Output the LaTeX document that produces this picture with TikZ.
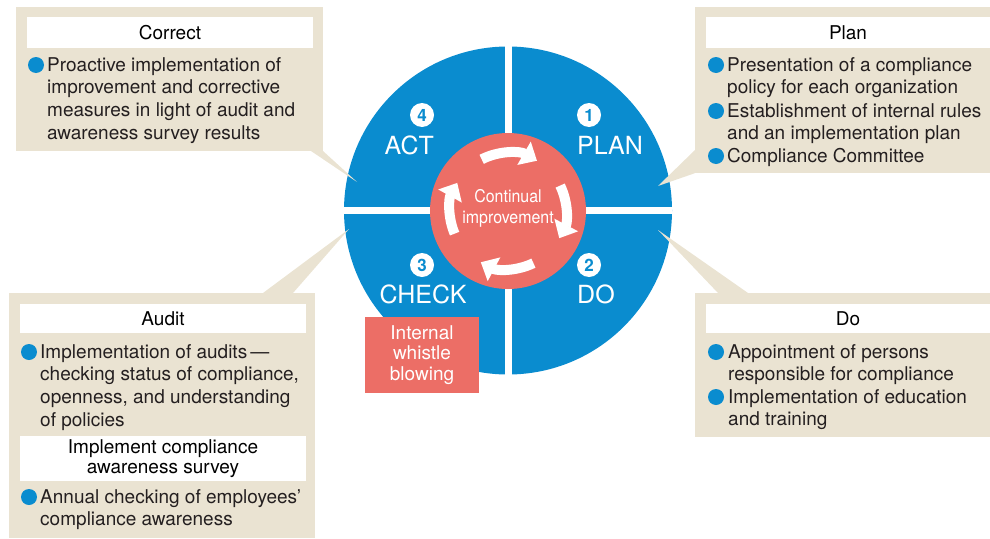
\documentclass[tikz,border=0pt]{standalone}
\usepackage{fontspec}
\setmainfont{TeX Gyre Heros}
\newfontfamily\narrowfont[FakeStretch=0.91]{TeX Gyre Heros}
\usetikzlibrary{arrows.meta}
\newlength{\du}
\setlength{\du}{1\unitlength}

\begin{document}
\begin{tikzpicture}[
  panel/.style={fill=panelcolor, inner sep=0pt},
  titlebar/.style={fill=white, inner sep=0pt, align=center, text=black, font=\fontsize{19}{20}\selectfont},
  bullettext/.style={anchor=base west, inner sep=0pt, align=left, text=textcolor, font=\fontsize{19}{22.7}\selectfont},
  dot/.style={circle, fill=pdcablue, inner sep=0pt, minimum size=16\du},
  gap/.style={draw=white, line width=7\du},
  cyclearrow/.style={draw=white, line width=10\du, -{Triangle[width=26pt, length=15pt]}},
  stepnum/.style={circle, fill=white, inner sep=0pt, minimum size=24\du, text=pdcablue, font=\bfseries\fontsize{17}{17}\selectfont},
  phase/.style={inner sep=0pt, text=white, font=\fontsize{25}{25}\selectfont},
  whistle/.style={fill=pdcared, inner sep=0pt, minimum width=114\du, minimum height=76\du, align=center, text=white, font=\fontsize{19}{20.5}\selectfont}
]
\pgftransformxscale{1.000000}
\pgftransformyscale{-1.000000}
\definecolor{pdcablue}{rgb}{0.040000, 0.550000, 0.810000}
\definecolor{pdcared}{rgb}{0.925000, 0.430000, 0.400000}
\definecolor{panelcolor}{rgb}{0.918000, 0.890000, 0.824000}
\definecolor{textcolor}{rgb}{0.140000, 0.120000, 0.125000}
\useasboundingbox (0\du,0\du) rectangle (990\du,538\du);
% wheel
\node[circle, fill=pdcablue, inner sep=0pt, minimum size=328\du] (wheel) at (508\du,210.5\du) {};
\draw[gap] (wheel.north) -- (wheel.south);
\draw[gap] (wheel.west) -- (wheel.east);
\node[circle, fill=pdcared, inner sep=0pt, minimum size=156\du] (hub) at (508\du,211\du) {};
\node[align=center, inner sep=0pt, text=white, font=\narrowfont\fontsize{17.5}{21}\selectfont] (hublabel) at (508\du,208\du) {Continual\\improvement};
\draw[cyclearrow] (hub.center) ++(-117:58pt) arc[start angle=-117, end angle=-60, radius=58pt];
\draw[cyclearrow] (hub.center) ++(-26:58pt) arc[start angle=-26, end angle=28, radius=58pt];
\draw[cyclearrow] (hub.center) ++(64:58pt) arc[start angle=64, end angle=118, radius=58pt];
\draw[cyclearrow] (hub.center) ++(-203:58pt) arc[start angle=-203, end angle=-151, radius=58pt];
% phases
\node[stepnum] (n1) at (589\du,115\du) {1};
\node[stepnum] (n2) at (589\du,265\du) {2};
\node[stepnum] (n3) at (422\du,265\du) {3};
\node[stepnum] (n4) at (422\du,115\du) {4};
\node[phase, anchor=base west] (plan) at (577\du,154\du) {PLAN};
\node[phase, anchor=base west] (do) at (577\du,303\du) {DO};
\node[phase, anchor=base] (check) at (423\du,303\du) {CHECK};
\node[phase, anchor=base east] (act) at (434\du,154\du) {ACT};
\node[whistle] (whistle) at (422\du,355\du) {Internal\\whistle\\blowing};
% callout tips
\coordinate (correctbase) at (311\du,151\du);
\coordinate (correcttip) at (357\du,182\du);
\coordinate (planbase) at (695\du,150\du);
\coordinate (plantip) at (658\du,186\du);
\coordinate (dobase) at (718\du,293\du);
\coordinate (dobase2) at (748\du,293\du);
\coordinate (dotip) at (658\du,230\du);
\coordinate (auditbase) at (263\du,293\du);
\coordinate (auditbase2) at (293\du,293\du);
\coordinate (audittip) at (349\du,229\du);
% Correct
\node[panel, minimum width=307\du, minimum height=144\du] (correctbox) at (169.5\du,79\du) {};
\fill[panelcolor] (correctbase) -- (correctbox.south east) -- (correcttip) -- cycle;
\node[titlebar, minimum width=286\du, minimum height=31\du] (correcttitle) at (170\du,32.5\du) {Correct};
\node[dot] (correctdot) at (36\du,65\du) {};
% base anchor = last line
\node[bullettext] (correcttext) at (47\du,139.1\du) {Proactive implementation of\\improvement and corrective\\measures in light of audit and\\awareness survey results};
% Plan
\node[panel, minimum width=295\du, minimum height=166\du] (planbox) at (842.5\du,90\du) {};
\fill[panelcolor] (planbase) -- (planbox.south west) -- (plantip) -- cycle;
\node[titlebar, minimum width=284\du, minimum height=31\du] (plantitle) at (848\du,32.5\du) {Plan};
\node[dot] (plandot1) at (716\du,65\du) {};
\node[dot] (plandot2) at (716\du,111\du) {};
\node[dot] (plandot3) at (716\du,156\du) {};
\node[bullettext] (plantext1) at (727\du,93.7\du) {Presentation of a compliance\\policy for each organization};
\node[bullettext] (plantext2) at (727\du,139.7\du) {Establishment of internal rules\\and an implementation plan};
\node[bullettext] (plantext3) at (727\du,162\du) {Compliance Committee};
% Do
\node[panel, minimum width=295\du, minimum height=144\du] (dobox) at (842.5\du,365\du) {};
\fill[panelcolor] (dobase) -- (dobase2) -- (dotip) -- cycle;
\node[titlebar, minimum width=284\du, minimum height=29\du] (dotitle) at (848\du,318.5\du) {Do};
\node[dot] (dodot1) at (716\du,352\du) {};
\node[dot] (dodot2) at (716\du,397\du) {};
\node[bullettext] (dotext1) at (728\du,380.7\du) {Appointment of persons\\responsible for compliance};
\node[bullettext] (dotext2) at (728\du,425.7\du) {Implementation of education\\and training};
% Audit
\node[panel, minimum width=306\du, minimum height=245\du] (auditbox) at (162\du,415.5\du) {};
\fill[panelcolor] (auditbase) -- (auditbase2) -- (audittip) -- cycle;
\node[titlebar, minimum width=286\du, minimum height=29\du] (audittitle) at (163\du,318.5\du) {Audit};
\node[dot] (auditdot1) at (29\du,352\du) {};
\node[bullettext] (audittext1) at (40\du,426.1\du) {Implementation of audits\,---\\checking status of compliance,\\openness, and understanding\\of policies};
\node[titlebar, minimum width=286\du, minimum height=45\du] (surveytitle) at (163\du,458.5\du) {Implement compliance\\awareness survey};
\node[dot] (auditdot2) at (29\du,497\du) {};
\node[bullettext] (audittext2) at (40\du,525.7\du) {Annual checking of employees'\\compliance awareness};
\end{tikzpicture}
\end{document}
